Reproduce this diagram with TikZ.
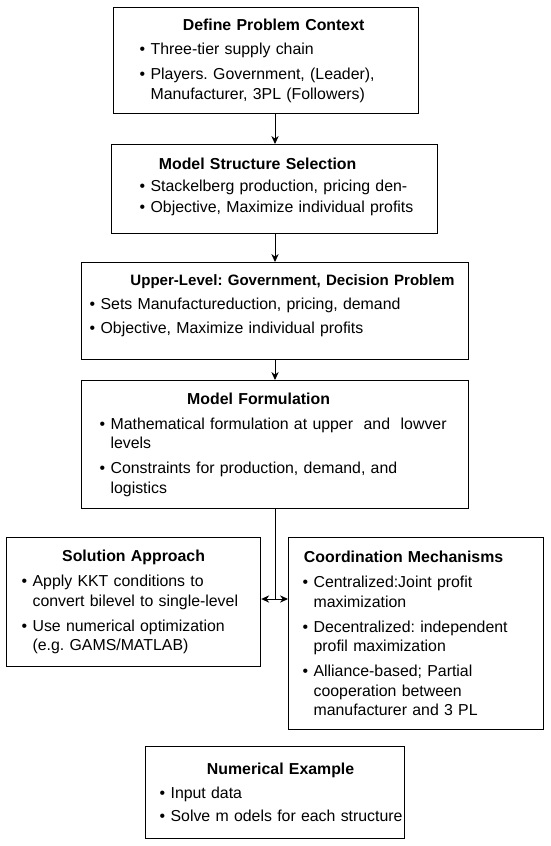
\documentclass[tikz,border=0pt]{standalone}
\usepackage{fontspec}
\setmainfont{Liberation Sans}
\usetikzlibrary{arrows.meta}
\pgfdeclarelayer{edgelayer}
\pgfdeclarelayer{nodelayer}
\pgfsetlayers{edgelayer,nodelayer,main}
\frenchspacing
\newdimen\binset
\newdimen\bgap
\newcommand{\stagefont}{\fontsize{11.9}{14.6}\selectfont}
\newcommand{\stagetitle}[3][11.9]{{\centering\fontsize{#1}{14.6}\selectfont\leavevmode\kern#2\textbf{#3}\par}}
\newcommand{\stageitem}[1]{\par\vspace{\bgap}{\leftskip=\binset\hangindent=8.25pt\hangafter=1\noindent\makebox[8.25pt][l]{\textbullet}#1\par}}
\newcommand{\stagetail}[1]{\par\kern#1}
\tikzset{stagebox/.style 2 args={draw=black, line width=0.9pt, inner sep=0pt, anchor=north west, align=left, font=\stagefont, execute at begin node={\binset=#1\relax\bgap=#2\relax}}}
\tikzstyle{flow}=[-{Stealth[length=6pt,width=5.5pt]}, draw=black, line width=0.75pt]
\tikzstyle{link}=[-, draw=black, line width=0.75pt]
\tikzstyle{twoway}=[{Stealth[length=6pt,width=5.5pt]}-{Stealth[length=6pt,width=5.5pt]}, draw=black, line width=0.75pt]

\begin{document}
\begin{tikzpicture}[x=0.75pt, y=-0.75pt]
            \useasboundingbox (0,0) rectangle (550,846);
            \begin{pgfonlayer}{nodelayer}
                \coordinate (spine) at (275,0);
                \coordinate (split) at (275,599);
                \node [stagebox={19.5pt}{4pt}, text width=228.75pt, minimum height=79.5pt] (context) at (113,7) {\stagetitle{11.25pt}{Define Problem Context}\stageitem{Three-tier supply chain}\stageitem{Players. Government, (Leader),\newline Manufacturer, 3PL (Followers)}};
                \node [stagebox={21pt}{1.5pt}, text width=244.5pt, minimum height=66.75pt] (structure) at (111,144) {\stagetitle{-25.5pt}{Model Structure Selection}\stageitem{Stackelberg production, pricing den-}\stageitem{Objective, Maximize individual profits}\stagetail{3pt}};
                \node [stagebox={6pt}{3.4pt}, text width=290.25pt, minimum height=72.75pt] (upper) at (81,262) {\stagetitle[11.3]{26pt}{Upper-Level: Government, Decision Problem}\stageitem{Sets Manufactureduction, pricing, demand}\stageitem{Objective, Maximize individual profits}\stagetail{7.5pt}};
                \node [stagebox={13.5pt}{4.1pt}, text width=290.25pt, minimum height=96pt] (formulation) at (81,380) {\stagetitle{-24.75pt}{Model Formulation}\stageitem{Mathematical formulation at upper\ \ and\ \ lowver\newline levels}\stageitem{Constraints for production, demand, and\newline logistics}};
                \node [stagebox={11.25pt}{4.1pt}, text width=190.5pt, minimum height=96.75pt] (solution) at (6,537) {\stagetitle{0pt}{Solution Approach}\stageitem{Apply KKT conditions to\newline convert bilevel to single-level}\stageitem{Use numerical optimization\newline (e.g. GAMS/MATLAB)}};
                \node [stagebox={10.5pt}{4.1pt}, text width=191.25pt, minimum height=144pt] (coordination) at (288,537) {\stagetitle{-18.75pt}{Coordination Mechanisms}\stageitem{Centralized:Joint profit\newline maximization}\stageitem{Decentralized: independent\newline profil maximization}\stageitem{Alliance-based; Partial\newline cooperation between\newline manufacturer and 3 PL}};
                \node [stagebox={10.5pt}{3pt}, text width=194.25pt, minimum height=69pt] (example) at (145,746) {\stagetitle{8.25pt}{Numerical Example}\stageitem{Input data}\stageitem{Solve m odels for each structure}};
            \end{pgfonlayer}
            \begin{pgfonlayer}{edgelayer}
                \draw [style=flow] (context.south -| spine) to (structure.north -| spine);
                \draw [style=flow] (structure.south -| spine) to (upper.north -| spine);
                \draw [style=flow] (upper.south -| spine) to (formulation.north -| spine);
                \draw [style=link] (formulation.south -| split) to (split);
                \draw [style=twoway] (solution.east |- split) to (coordination.west |- split);
            \end{pgfonlayer}
        \end{tikzpicture}
\end{document}
